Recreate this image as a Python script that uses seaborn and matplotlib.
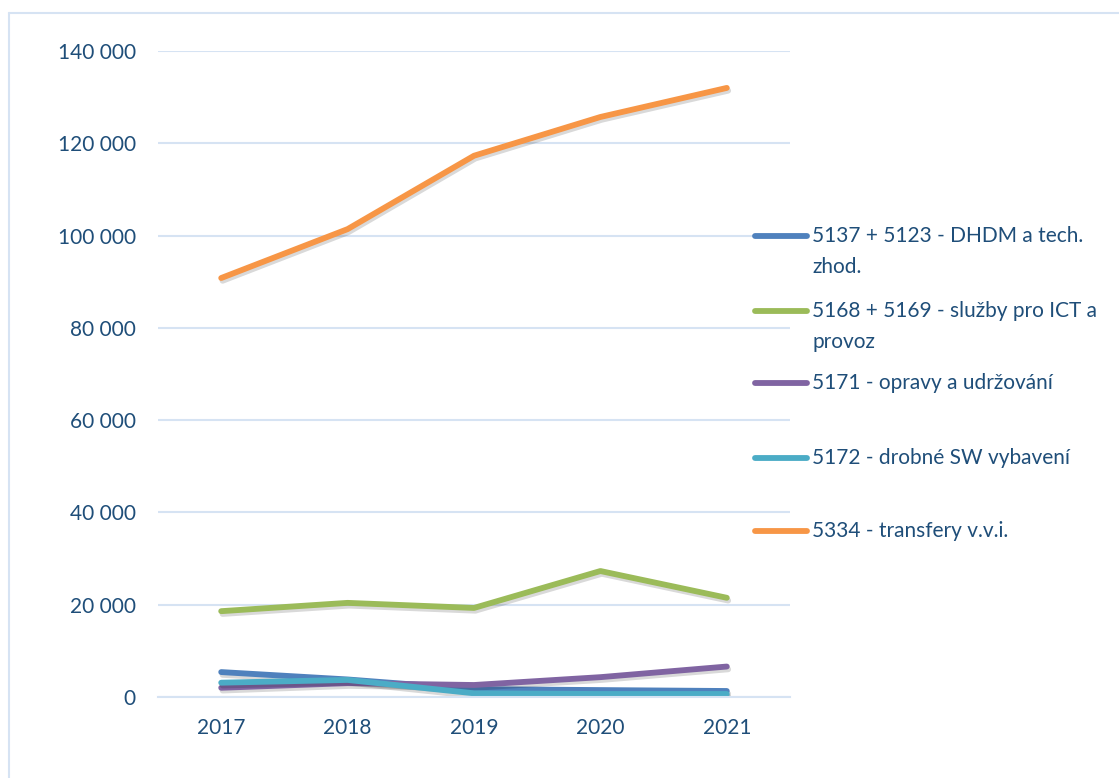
import matplotlib
matplotlib.use("Agg")
import matplotlib.pyplot as plt
import matplotlib.patheffects as pe
from matplotlib.lines import Line2D
import seaborn as sns
import pandas as pd

years = ["2017", "2018", "2019", "2020", "2021"]
series_names = [
    "5137 + 5123 - DHDM a tech.\nzhod.",
    "5168 + 5169 - služby pro ICT a\nprovoz",
    "5171 - opravy a udržování",
    "5172 - drobné SW vybavení",
    "5334 - transfery v.v.i.",
]
dhdm = [5400, 3800, 1700, 1500, 1300]
sluzby = [18600, 20400, 19300, 27300, 21500]
opravy = [2000, 3000, 2600, 4300, 6600]
drobne_sw = [3100, 3700, 800, 650, 650]
transfery = [90800, 101400, 117300, 125700, 132000]
colors = ["#4F81BD", "#9BBB59", "#8064A2", "#4BACC6", "#F79646"]
y_ticks = [0, 20000, 40000, 60000, 80000, 100000, 120000, 140000]

all_vals = [dhdm, sluzby, opravy, drobne_sw, transfery]
rows = []
for name, vals in zip(series_names, all_vals):
    for yr, v in zip(years, vals):
        rows.append({"rok": yr, "hodnota": v, "serie": name})
df = pd.DataFrame(rows)

sns.set_theme(style="white")
plt.rcParams["font.family"] = ["Lato", "DejaVu Sans"]
text_color = "#1F4E79"
grid_color = "#D6E3F3"
lw = 4.2

fig = plt.figure(figsize=(11.19, 7.78), dpi=100)
ax = fig.add_axes([158 / 1119, 1 - 697 / 778, (790 - 158) / 1119, (697 - 51) / 778])

sns.lineplot(data=df, x="rok", y="hodnota", hue="serie", hue_order=series_names,
             palette=colors, linewidth=lw, ax=ax, legend=False, sort=False)
for line in ax.lines:
    line.set_solid_capstyle("round")
    line.set_solid_joinstyle("round")
    line.set_path_effects([pe.SimpleLineShadow(offset=(1.0, -2.0), shadow_color="black", alpha=0.15),
                           pe.Normal()])

ax.set_xlim(-0.5, 4.5)
ax.set_ylim(0, 140000)
ax.set_yticks(y_ticks)
ax.set_yticklabels([f"{t:,}".replace(",", " ") for t in y_ticks])
ax.set_xticks(range(len(years)))
ax.set_xticklabels(years)
ax.set_xticks([i - 0.5 for i in range(len(years) + 1)], minor=True)
ax.tick_params(axis="x", which="major", length=0, pad=15, labelsize=15, labelcolor=text_color)
ax.tick_params(axis="x", which="minor", length=6, width=1.5, color=grid_color, direction="out")
ax.tick_params(axis="y", length=0, pad=16, labelsize=15, labelcolor=text_color)
ax.set_xlabel("")
ax.set_ylabel("")
ax.grid(axis="y", color=grid_color, linewidth=1.5)
ax.set_axisbelow(True)
for s in ["top", "right", "left"]:
    ax.spines[s].set_visible(False)
ax.spines["bottom"].set_color(grid_color)
ax.spines["bottom"].set_linewidth(1.5)

# legend, drawn entry by entry (handle aligned with the first text line)
W, H = 1119, 778
entry_y = [236, 311, 383, 458, 531]
line_gap = 31
for name, c, yy in zip(series_names, colors, entry_y):
    fig.add_artist(Line2D([755 / W, 807 / W], [1 - yy / H, 1 - yy / H], color=c, linewidth=lw,
                          solid_capstyle="round", transform=fig.transFigure))
    for k, part in enumerate(name.split("\n")):
        fig.text(812 / W, 1 - (yy + k * line_gap) / H, part, fontsize=15, color=text_color,
                 ha="left", va="center")

# outer border (top and left visible)
fig.add_artist(Line2D([9 / W, 1.0], [1 - 13 / H, 1 - 13 / H], color=grid_color, linewidth=1.5,
                      transform=fig.transFigure))
fig.add_artist(Line2D([9 / W, 9 / W], [0, 1 - 13 / H], color=grid_color, linewidth=1.5,
                      transform=fig.transFigure))

fig.savefig("out.png", dpi=100)
